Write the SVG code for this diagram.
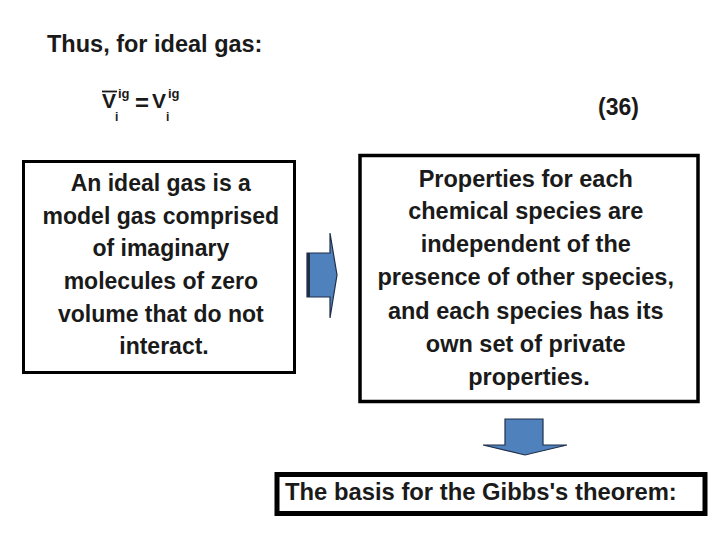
<svg xmlns="http://www.w3.org/2000/svg" width="720" height="540" viewBox="0 0 720 540">
<style>
text{font-family:"Liberation Sans",Arial,sans-serif;font-weight:bold;fill:#1a1a1a}
.box{fill:#fff;stroke:#000}
.c{text-anchor:middle}
.arrow{fill:#4f81bd;stroke:#1f2f4a;stroke-width:1.2;stroke-linejoin:miter}
</style>
<rect width="720" height="540" fill="#fff"/>
<g id="title">
<text x="47" y="52" font-size="23.5">Thus, for ideal gas:</text>
</g>
<g id="equation">
<text x="102" y="108" font-size="21">V</text>
<line x1="102" y1="91.5" x2="117" y2="91.5" stroke="#1a1a1a" stroke-width="1.8"/>
<text x="118" y="98" font-size="13">ig</text>
<text x="115" y="121" font-size="12">i</text>
<text x="135" y="111" font-size="24">=</text>
<text x="152" y="108" font-size="21">V</text>
<text x="168" y="98" font-size="13">ig</text>
<text x="166" y="121" font-size="12">i</text>
</g>
<g id="eqnum">
<text x="598" y="115" font-size="23">(36)</text>
</g>
<g id="node-ideal-gas">
<rect class="box" x="23.5" y="161.5" width="271" height="211" stroke-width="3"/>
<text class="c" font-size="23">
<tspan x="164" y="191">An ideal gas is a</tspan>
<tspan x="164" y="224">model gas comprised</tspan>
<tspan x="164" y="256">of imaginary</tspan>
<tspan x="164" y="289">molecules of zero</tspan>
<tspan x="164" y="322">volume that do not</tspan>
<tspan x="164" y="354">interact.</tspan>
</text>
</g>
<g id="node-properties">
<rect class="box" x="360" y="155.5" width="338" height="246" stroke-width="3.5"/>
<text class="c" font-size="23.5">
<tspan x="529" y="187">Properties for each</tspan>
<tspan x="529" y="219">chemical species are</tspan>
<tspan x="529" y="252">independent of the</tspan>
<tspan x="529" y="285">presence of other species,</tspan>
<tspan x="529" y="319">and each species has its</tspan>
<tspan x="529" y="352">own set of private</tspan>
<tspan x="529" y="385">properties.</tspan>
</text>
</g>
<g id="node-gibbs">
<rect class="box" x="277" y="474.5" width="428" height="39" stroke-width="5"/>
<text x="285" y="500" font-size="23.8">The basis for the Gibbs's theorem:</text>
</g>
<g id="connectors">
<path class="arrow" d="M307,253 L330,253 L330,233 L337,275 L330,318 L330,297 L307,297 Z"/>
<line x1="308.5" y1="253" x2="308.5" y2="297" stroke="#1f2f4a" stroke-width="3"/>
<path class="arrow" d="M505,419 L543,419 L543,445 L567,445 L525,455 L483,445 L505,445 Z"/>
</g>
</svg>
